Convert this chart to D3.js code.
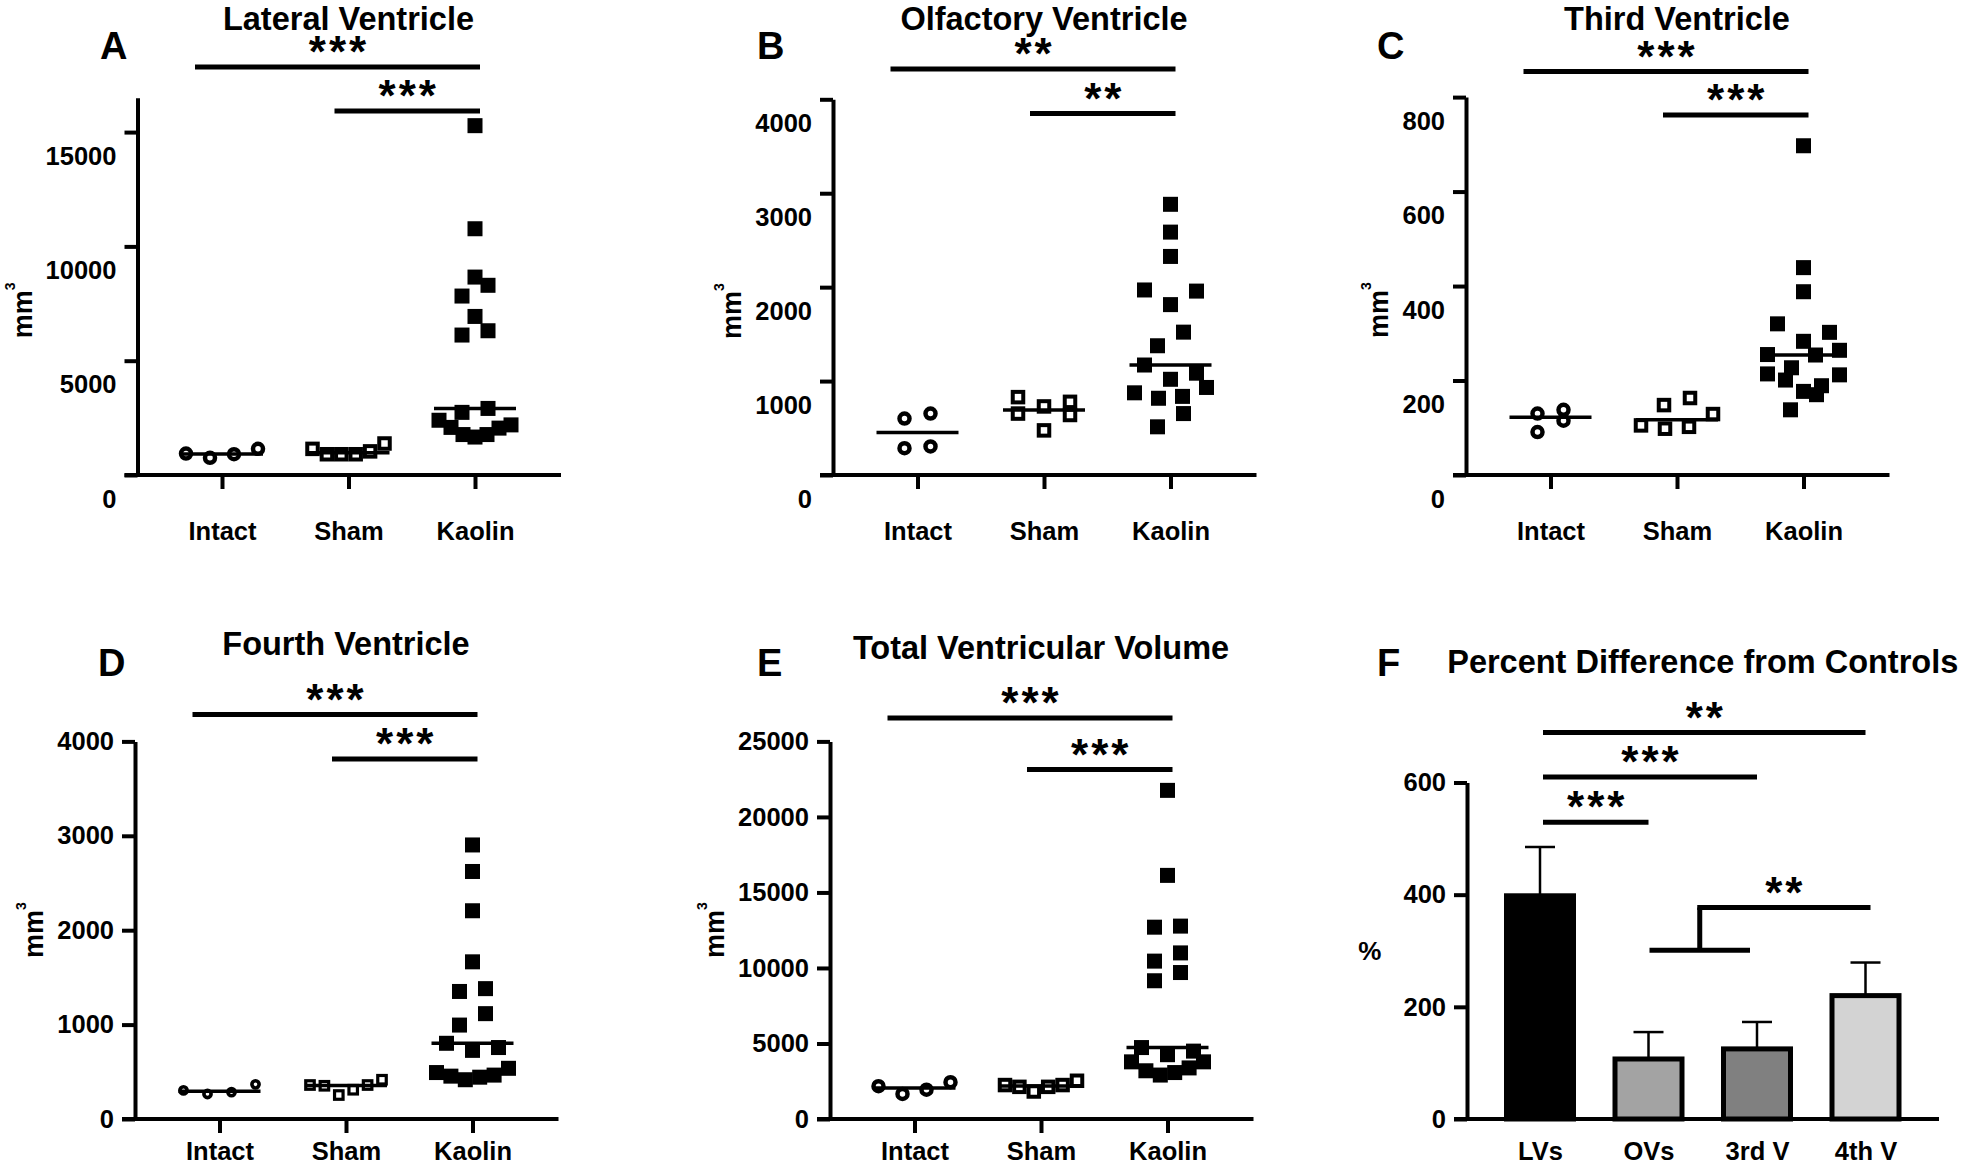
<!DOCTYPE html>
<html>
<head>
<meta charset="utf-8">
<script src="https://cdn.jsdelivr.net/npm/d3@7"></script>
<style>
  body { margin: 0; background: #fff; }
  svg text { font-family: "Liberation Sans", Arial, sans-serif; font-weight: bold; fill: #000; }
</style>
</head>
<body>
<svg id="fig" width="1961" height="1170"></svg>
<script>
var groups = ['Intact', 'Sham', 'Kaolin'];

// A - lateral ventricle, mm3
var lateralIntact = [939, 752, 908, 1143];
var lateralSham = [1143, 908, 908, 908, 1033, 1378];
var lateralKaolin = [15281, 10772, 8658, 8298, 7828, 6936, 6310, 6122, 2912, 2740, 2395, 2192, 2082, 2051, 1769, 1769, 1660];
var lateralTicks = [0, 5000, 10000, 15000];
var lateralSig = [
  {from: 'Intact', to: 'Kaolin', y: 17850, label: '***'},
  {from: 'Sham', to: 'Kaolin', y: 15920, label: '***'}
];

// B - olfactory ventricle
var olfIntact = [601, 654, 285, 304];
var olfSham = [829, 730, 639, 475, 654, 779];
var olfKaolin = [2882, 2586, 2327, 1970, 1958, 1814, 1521, 1376, 1171, 1084, 1019, 932, 875, 817, 837, 654, 513];
var olfTicks = [0, 1000, 2000, 3000, 4000];
var olfSig = [
  {from: 'Intact', to: 'Kaolin', y: 4322, label: '**'},
  {from: 'Sham', to: 'Kaolin', y: 3848, label: '**'}
];

// C - third ventricle
var thirdIntact = [130, 138, 115, 91];
var thirdSham = [105, 148, 98, 163, 102, 129];
var thirdKaolin = [697, 439, 388, 320, 302, 283, 264, 254, 255, 227, 212, 214, 201, 189, 177, 170, 138];
var thirdTicks = [0, 200, 400, 600, 800];
var thirdSig = [
  {from: 'Intact', to: 'Kaolin', y: 854, label: '***'},
  {from: 'Sham', to: 'Kaolin', y: 762, label: '***'}
];

// D - fourth ventricle
var fourthIntact = [303, 265, 284, 367];
var fourthSham = [360, 352, 254, 310, 360, 416];
var fourthKaolin = [2903, 2622, 2206, 1665, 1351, 1381, 1116, 995, 802, 727, 757, 492, 454, 416, 443, 465, 537];
var fourthTicks = [0, 1000, 2000, 3000, 4000];
var fourthSig = [
  {from: 'Intact', to: 'Kaolin', y: 4284, label: '***'},
  {from: 'Sham', to: 'Kaolin', y: 3814, label: '***'}
];

// E - total ventricular volume
var totalIntact = [2176, 1656, 1939, 2436];
var totalSham = [2247, 2129, 1821, 2129, 2247, 2531];
var totalKaolin = [21758, 16129, 12700, 12771, 10997, 10453, 9697, 9153, 4730, 4494, 4257, 3784, 3784, 3193, 2909, 3075, 3382];
var totalTicks = [0, 5000, 10000, 15000, 20000, 25000];
var totalSig = [
  {from: 'Intact', to: 'Kaolin', y: 26549, label: '***'},
  {from: 'Sham', to: 'Kaolin', y: 23133, label: '***'}
];

// F - percent difference from controls
var pctCats = ['LVs', 'OVs', '3rd V', '4th V'];
var pctMean = [398, 107, 125, 220];
var pctSem = [87, 48, 48, 59];
var pctTicks = [0, 200, 400, 600];
var pctSig = [
  {from: 'LVs', to: '4th V', y: 689, label: '**'},
  {from: 'LVs', to: '3rd V', y: 610, label: '***'},
  {from: 'LVs', to: 'OVs', y: 529, label: '***'}
];
var pctBracket = {from: 'OVs', to: '3rd V', low: 301, target: '4th V', high: 377, label: '**'};

var pctColors = ['#000000', '#a3a3a3', '#808080', '#d3d3d3'];

var svg = d3.select('#fig');

var panels = [
  {letter: 'A', title: 'Lateral Ventricle', values: [lateralIntact, lateralSham, lateralKaolin],
   ticks: lateralTicks, sig: lateralSig, yMax: 16500,
   axisX: 137.5, y0: 475, yTop: 97.8, shift: 24, titleY: 30, letterX: 100, letterY: 59, small: false},
  {letter: 'B', title: 'Olfactory Ventricle', values: [olfIntact, olfSham, olfKaolin],
   ticks: olfTicks, sig: olfSig, yMax: 4000,
   axisX: 833, y0: 475, yTop: 99.3, shift: 24, titleY: 30, letterX: 757, letterY: 59, small: false},
  {letter: 'C', title: 'Third Ventricle', values: [thirdIntact, thirdSham, thirdKaolin],
   ticks: thirdTicks, sig: thirdSig, yMax: 800,
   axisX: 1466, y0: 475, yTop: 97.1, shift: 24, titleY: 30, letterX: 1377, letterY: 59, small: false},
  {letter: 'D', title: 'Fourth Ventricle', values: [fourthIntact, fourthSham, fourthKaolin],
   ticks: fourthTicks, sig: fourthSig, yMax: 4000,
   axisX: 135, y0: 1119, yTop: 741.4, shift: 0, titleY: 654.6, letterX: 98, letterY: 676, small: true},
  {letter: 'E', title: 'Total Ventricular Volume', values: [totalIntact, totalSham, totalKaolin],
   ticks: totalTicks, sig: totalSig, yMax: 25000,
   axisX: 830, y0: 1119, yTop: 741.4, shift: 0, titleY: 659, letterX: 757, letterY: 676, small: false}
];

var ROW_H = 18, MAX_SP = 26, HALF_W = 36;

// prism-like scatter: bin close values into rows, spread each row from the centre out
function swarm(vals, y, cx) {
  var order = vals.map(function(v, i) { return i; })
    .sort(function(a, b) { return vals[a] - vals[b]; });
  var pts = [];
  var i = 0;
  while (i < order.length) {
    var row = [order[i]];
    var yStart = y(vals[order[i]]);
    var j = i + 1;
    while (j < order.length && yStart - y(vals[order[j]]) < ROW_H) {
      row.push(order[j]);
      j++;
    }
    var n = row.length;
    var sp = n > 1 ? Math.min(MAX_SP, 2 * HALF_W / (n - 1)) : 0;
    row.forEach(function(k, r) {
      var slot;
      if (n % 2) {
        var m = Math.ceil(r / 2);
        slot = r === 0 ? 0 : (r % 2 ? m : -m);
      } else {
        var m2 = Math.floor(r / 2) + 0.5;
        slot = r % 2 ? m2 : -m2;
      }
      pts.push({v: vals[k], x: cx + slot * sp, y: y(vals[k])});
    });
    i = j;
  }
  return pts;
}

function styleAxis(ax) {
  ax.attr('font-family', null).attr('font-size', null);
  ax.select('.domain').attr('stroke-width', 4);
  ax.selectAll('.tick line').attr('stroke-width', 4);
  ax.selectAll('.tick text').style('font-size', '25.5px');
}

function drawStars(g, x1, x2, yPx, label) {
  g.append('line')
    .attr('x1', x1).attr('x2', x2)
    .attr('y1', yPx).attr('y2', yPx)
    .attr('stroke', '#000').attr('stroke-width', 5);
  g.append('text')
    .attr('x', (x1 + x2) / 2)
    .attr('dx', 1.5)
    .attr('y', yPx)
    .attr('text-anchor', 'middle')
    .style('font-size', '44px')
    .style('letter-spacing', '3px')
    .text(label);
}

function yLabel(g, ax, axisX, yc, shift) {
  var bb = ax.node().getBBox();
  var xb = axisX + bb.x - 14;
  var t = g.append('text')
    .attr('transform', 'translate(' + xb + ',' + (yc + shift) + ') rotate(-90)')
    .attr('text-anchor', 'middle')
    .style('font-size', '27px');
  t.append('tspan').text('mm');
  t.append('tspan').attr('dy', -17).style('font-size', '14px').text('3');
}

function drawScatter(p) {
  var g = svg.append('g');
  var y = d3.scaleLinear().domain([0, p.yMax]).range([p.y0, p.yTop]);
  var x = d3.scalePoint().domain(groups)
    .range([p.axisX + 84.5, p.axisX + 84.5 + 253]);

  // x axis line and ticks
  g.append('line')
    .attr('x1', p.axisX - 13).attr('x2', x('Kaolin') + 86)
    .attr('y1', p.y0).attr('y2', p.y0)
    .attr('stroke', '#000').attr('stroke-width', 4);
  var xa = g.append('g')
    .attr('transform', 'translate(0,' + p.y0 + ')')
    .call(d3.axisBottom(x).tickSize(14).tickSizeOuter(0));
  xa.select('.domain').remove();
  styleAxis(xa);
  xa.selectAll('.tick text').attr('y', 41 + p.shift).attr('dy', null);

  // y axis
  var ya = g.append('g')
    .attr('transform', 'translate(' + p.axisX + ',0)')
    .call(d3.axisLeft(y).tickValues(p.ticks).tickSize(13).tickSizeOuter(0)
      .tickPadding(8).tickFormat(d3.format('d')));
  styleAxis(ya);
  ya.selectAll('.tick text').attr('y', p.shift);

  yLabel(g, ya, p.axisX, (p.y0 + p.yTop) / 2, p.shift);

  // points
  var cr = p.small ? 3.6 : 5, csw = p.small ? 3.6 : 4.5;
  var sq = p.small ? 8.5 : 10.5, ssw = p.small ? 3.2 : 4;
  var fs = 15;
  p.values.forEach(function(vals, gi) {
    var cx = x(groups[gi]);
    var pts = swarm(vals, y, cx);
    var sel = g.append('g').selectAll('.pt').data(pts).enter();
    if (gi === 0) {
      sel.append('circle')
        .attr('cx', function(d) { return d.x; })
        .attr('cy', function(d) { return d.y; })
        .attr('r', cr)
        .attr('fill', '#fff').attr('stroke', '#000').attr('stroke-width', csw);
    } else if (gi === 1) {
      sel.append('rect')
        .attr('x', function(d) { return d.x - sq / 2; })
        .attr('y', function(d) { return d.y - sq / 2; })
        .attr('width', sq).attr('height', sq)
        .attr('fill', '#fff').attr('stroke', '#000').attr('stroke-width', ssw);
    } else {
      sel.append('rect')
        .attr('x', function(d) { return d.x - fs / 2; })
        .attr('y', function(d) { return d.y - fs / 2; })
        .attr('width', fs).attr('height', fs)
        .attr('fill', '#000');
    }
    var med = d3.median(vals);
    g.append('line')
      .attr('x1', cx - 41).attr('x2', cx + 41)
      .attr('y1', y(med)).attr('y2', y(med))
      .attr('stroke', '#000').attr('stroke-width', 3.5);
  });

  // significance bars
  p.sig.forEach(function(s) {
    var x1 = x(s.from) + (s.from === groups[0] ? -27 : -14);
    var x2 = x(s.to) + 5;
    drawStars(g, x1, x2, y(s.y), s.label);
  });

  // title and panel letter
  g.append('text')
    .attr('x', x('Sham')).attr('y', p.titleY)
    .attr('text-anchor', 'middle')
    .style('font-size', '32.5px')
    .text(p.title);
  g.append('text')
    .attr('x', p.letterX).attr('y', p.letterY)
    .style('font-size', '38px')
    .text(p.letter);
}

panels.forEach(drawScatter);

// F - bar chart
(function() {
  var axisX = 1467, y0 = 1119, yTop = 782.5;
  var g = svg.append('g');
  var y = d3.scaleLinear().domain([0, 600]).range([y0, yTop]);
  var x = d3.scalePoint().domain(pctCats).range([1540, 1865.5]);
  var bw = 67;

  // error bars (upper only)
  pctCats.forEach(function(c, i) {
    var cx = x(c), top = y(pctMean[i] + pctSem[i]);
    g.append('line').attr('x1', cx).attr('x2', cx)
      .attr('y1', y(pctMean[i])).attr('y2', top)
      .attr('stroke', '#000').attr('stroke-width', 2.5);
    g.append('line').attr('x1', cx - 15).attr('x2', cx + 15)
      .attr('y1', top).attr('y2', top)
      .attr('stroke', '#000').attr('stroke-width', 2.5);
  });

  g.selectAll('.bar').data(pctCats).enter().append('rect')
    .attr('x', function(c) { return x(c) - bw / 2; })
    .attr('y', function(c, i) { return y(pctMean[i]); })
    .attr('width', bw)
    .attr('height', function(c, i) { return y0 - y(pctMean[i]); })
    .attr('fill', function(c, i) { return pctColors[i]; })
    .attr('stroke', '#000').attr('stroke-width', 5);

  g.append('line')
    .attr('x1', axisX - 13).attr('x2', 1939)
    .attr('y1', y0).attr('y2', y0)
    .attr('stroke', '#000').attr('stroke-width', 4);

  var xa = g.append('g')
    .attr('transform', 'translate(0,' + y0 + ')')
    .call(d3.axisBottom(x).tickSize(0).tickSizeOuter(0));
  xa.select('.domain').remove();
  styleAxis(xa);
  xa.selectAll('.tick text').attr('y', 41).attr('dy', null);

  var ya = g.append('g')
    .attr('transform', 'translate(' + axisX + ',0)')
    .call(d3.axisLeft(y).tickValues(pctTicks).tickSize(13).tickSizeOuter(0).tickPadding(8));
  styleAxis(ya);

  var bb = ya.node().getBBox();
  g.append('text')
    .attr('x', axisX + bb.x - 22).attr('y', (y0 + yTop) / 2 + 9)
    .attr('text-anchor', 'end')
    .style('font-size', '26px')
    .text('%');

  pctSig.forEach(function(s) {
    drawStars(g, x(s.from) + 3, x(s.to), y(s.y), s.label);
  });

  // bracket: OVs + 3rd V vs 4th V
  var b = pctBracket;
  var gx1 = x(b.from) + 1, gx2 = x(b.to) - 7, mid = (gx1 + gx2) / 2;
  g.append('line').attr('x1', gx1).attr('x2', gx2)
    .attr('y1', y(b.low)).attr('y2', y(b.low))
    .attr('stroke', '#000').attr('stroke-width', 5);
  g.append('line').attr('x1', mid).attr('x2', mid)
    .attr('y1', y(b.low)).attr('y2', y(b.high))
    .attr('stroke', '#000').attr('stroke-width', 5);
  drawStars(g, mid - 2.5, x(b.target) + 5, y(b.high), b.label);

  g.append('text')
    .attr('x', (x('LVs') + x('4th V')) / 2).attr('y', 672.5)
    .attr('text-anchor', 'middle')
    .style('font-size', '32.5px')
    .text('Percent Difference from Controls');
  g.append('text')
    .attr('x', 1377).attr('y', 676)
    .style('font-size', '38px')
    .text('F');
})();
</script>
</body>
</html>
